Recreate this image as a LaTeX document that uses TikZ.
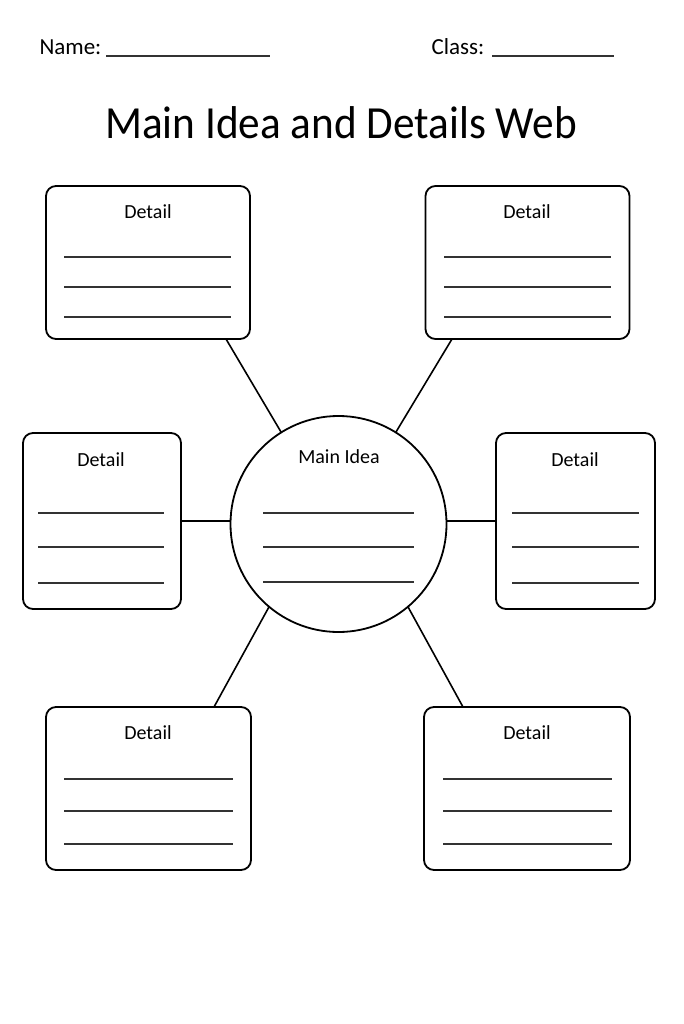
\documentclass[tikz,border=0pt]{standalone}
\usepackage{fontspec}
\setmainfont{Carlito}
\usetikzlibrary{positioning}

\begin{document}
\begin{tikzpicture}[x=1pt,y=-1pt,
	detailbox/.style={draw,line width=1.8pt,rounded corners=10pt,inner sep=0pt,outer sep=0pt},
	wline/.style={line width=1.4pt,black!80},
	link/.style={line width=1.6pt},
	lbl/.style={font=\fontsize{20}{24}\selectfont}]
	
	\useasboundingbox (0,0) rectangle (683,1024);
	
	% header
	\node[anchor=base west,font=\fontsize{23}{27}\selectfont] (name) at (36,55) {Name:};
	\draw[wline] (106,56) -- (270,56);
	\node[anchor=base west,font=\fontsize{23}{27}\selectfont] (class) at (428,55) {Class:};
	\draw[wline] (492,56) -- (614,56);
	
	\node[font=\fontsize{46}{54}\selectfont] (title) at (341,123) {\scalebox{0.94}[1]{Main Idea and Details Web}};
	
	% main idea
	\node[draw,circle,line width=1.8pt,minimum size=216pt,inner sep=0pt,outer sep=0pt] (main) at (338.5,524) {};
	\node[lbl] (mainlbl) at (339,457) {Main Idea};
	\foreach \y in {513,547,582}
		\draw[wline] (263,\y) -- (414,\y);
	
	% detail boxes
	\node[detailbox,minimum width=204pt,minimum height=153pt] (tl) at (148,262.5) {};
	\node[detailbox,minimum width=204pt,minimum height=153pt] (tr) at (527.5,262.5) {};
	\node[detailbox,minimum width=158pt,minimum height=176pt] (ml) at (102,521) {};
	\node[detailbox,minimum width=159pt,minimum height=176pt] (mr) at (575.5,521) {};
	\node[detailbox,minimum width=205pt,minimum height=163pt] (bl) at (148.5,788.5) {};
	\node[detailbox,minimum width=206pt,minimum height=163pt] (br) at (527,788.5) {};
	
	\node[lbl] (tllbl) at (148,212) {Detail};
	\node[lbl] (trlbl) at (527,212) {Detail};
	\node[lbl] (mllbl) at (101,460) {Detail};
	\node[lbl] (mrlbl) at (575,460) {Detail};
	\node[lbl] (bllbl) at (148,733) {Detail};
	\node[lbl] (brlbl) at (527,733) {Detail};
	
	\foreach \y in {257,287,317} {
		\draw[wline] (64,\y) -- (231,\y);
		\draw[wline] (444,\y) -- (611,\y);
	}
	\foreach \y in {513,547,583} {
		\draw[wline] (38,\y) -- (164,\y);
		\draw[wline] (512,\y) -- (639,\y);
	}
	\foreach \y in {779,811,844} {
		\draw[wline] (64,\y) -- (233,\y);
		\draw[wline] (443,\y) -- (612,\y);
	}
	
	% connectors
	\coordinate (tlc) at (226,339);
	\coordinate (trc) at (452,339);
	\coordinate (blc) at (214,707);
	\coordinate (brc) at (463,707);
	
	\draw[link] (main.122) -- (tlc);
	\draw[link] (main.58) -- (trc);
	\draw[link] (main.230) -- (blc);
	\draw[link] (main.310) -- (brc);
	\draw[link] (ml.east) -- (ml.east -| main.west);
	\draw[link] (mr.west -| main.east) -- (mr.west);
	
\end{tikzpicture}
\end{document}
